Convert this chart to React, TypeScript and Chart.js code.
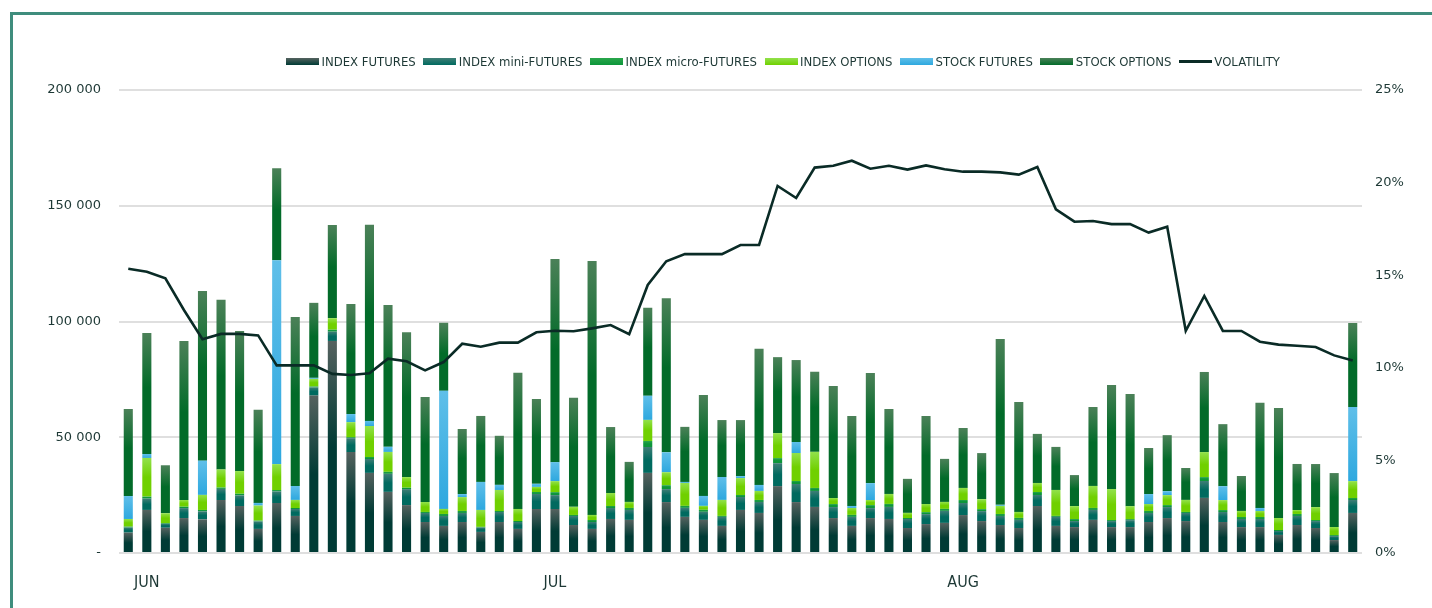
import React, { useEffect, useRef } from 'react';
import { Chart, registerables } from 'chart.js';

Chart.register(...registerables);

// ---- Data ----
const monthTicks = ['JUN', 'JUL', 'AUG'];
const monthTickIndex = [1, 23, 45];
const dayCount = 67;

const indexFutures = [
  8800, 18600, 10900, 15100, 14500, 22900, 20300, 10400, 21600, 16000,
  68000, 91600, 43600, 34600, 26400, 20700, 13400, 11700, 13400, 9100,
  13400, 10400, 19000, 19000, 12100, 10400, 14700, 14300, 34600, 22000,
  15600, 14300, 11700, 18600, 17300, 28900, 22000, 19900, 15100, 11700,
  15100, 14700, 10800, 12500, 13000, 16400, 13800, 12100, 10800, 20300,
  11700, 11200, 14300, 11200, 11200, 13400, 15100, 13800, 23800, 13400,
  11200, 11200, 7800, 12100, 10800, 5600, 17300,
];
const indexMiniFutures = [
  2200, 4900, 1700, 4300, 3500, 4800, 4600, 3200, 5000, 3000,
  3500, 4000, 6000, 6000, 7800, 6900, 3900, 4300, 3900, 1900,
  4300, 3000, 6500, 6000, 3900, 3000, 4750, 4300, 11200, 5600,
  3900, 3500, 3900, 5600, 4750, 9900, 7800, 6900, 4750, 3900,
  4300, 5200, 3900, 4300, 5200, 5200, 4300, 3900, 3500, 4750,
  3900, 2600, 4300, 2600, 3000, 3900, 4750, 3500, 7300, 4300,
  3500, 3500, 1700, 3900, 3000, 1700, 5600,
];
const indexMicroFutures = [
  400, 860, 300, 600, 600, 600, 700, 400, 600, 430,
  430, 860, 430, 860, 860, 600, 430, 860, 860, 300,
  430, 430, 860, 1300, 430, 860, 860, 860, 2600, 1700,
  860, 860, 430, 860, 860, 2200, 1300, 1300, 1300, 860,
  1300, 1300, 430, 860, 860, 1300, 860, 860, 860, 1300,
  430, 860, 860, 430, 430, 860, 860, 430, 1700, 860,
  860, 860, 430, 860, 430, 430, 860,
];
const indexOptions = [
  3300, 16700, 4300, 2900, 6500, 7800, 9800, 6500, 11200, 3500,
  3300, 5000, 6500, 13400, 8600, 4600, 4300, 2200, 6000, 7300,
  9100, 5200, 2200, 4750, 3500, 2200, 5600, 2600, 9100, 5600,
  9900, 1700, 6900, 7300, 3900, 10800, 12100, 15600, 2600, 3000,
  2200, 4300, 2200, 3500, 3000, 5200, 4300, 3500, 2600, 3900,
  11200, 5600, 9500, 13400, 5600, 3000, 4300, 5200, 10800, 4300,
  2600, 2600, 5200, 1700, 5600, 3500, 7300,
];
const stockFutures = [
  9900, 1700, 0, 0, 14800, 0, 0, 1150, 88100, 6000,
  430, 0, 3500, 2200, 2200, 0, 0, 51000, 1300, 12100,
  2200, 0, 1300, 8200, 0, 0, 0, 0, 10400, 8600,
  430, 4300, 9900, 860, 2600, 0, 4750, 0, 0, 860,
  7300, 0, 0, 0, 0, 0, 0, 430, 0, 0,
  0, 0, 0, 0, 0, 4300, 1700, 0, 0, 6000,
  0, 1300, 0, 0, 0, 0, 32000,
];
const stockOptions = [
  37600, 52300, 20700, 68700, 73300, 73300, 60500, 40200, 39700, 73000,
  32400, 40200, 47500, 84700, 61300, 62600, 45400, 29400, 28100, 28500,
  21200, 58800, 36700, 87700, 47100, 109700, 28500, 17300, 38000, 66500,
  23800, 43600, 24600, 24200, 58800, 32800, 35400, 34600, 48400, 38900,
  47500, 36700, 14700, 38000, 18600, 25900, 19900, 71700, 47500, 21200,
  18600, 13400, 34100, 44900, 48400, 19900, 24200, 13800, 34600, 26800,
  15100, 45400, 47500, 19900, 18600, 23300, 36300,
];
const volatility = [
  15.35, 15.19, 14.83, 13.12, 11.54, 11.83, 11.83, 11.75, 10.13, 10.13,
  10.13, 9.67, 9.61, 9.7, 10.49, 10.35, 9.86, 10.31, 11.3, 11.14,
  11.36, 11.36, 11.92, 12.0, 11.97, 12.13, 12.31, 11.81, 14.47, 15.75,
  16.14, 16.14, 16.14, 16.63, 16.63, 19.82, 19.17, 20.81, 20.91, 21.18,
  20.75, 20.91, 20.7, 20.93, 20.72, 20.59, 20.59, 20.55, 20.43, 20.84,
  18.56, 17.89, 17.93, 17.76, 17.76, 17.3, 17.62, 12.0, 13.88, 11.99,
  11.99, 11.41, 11.25, 11.19, 11.12, 10.67, 10.4,
];

const categories = Array.from({ length: dayCount }, (_, i) => {
  const k = monthTickIndex.indexOf(i);
  return k >= 0 ? monthTicks[k] : '';
});

// ---- Styles ----
const SERIES = [
  { label: 'INDEX FUTURES', data: indexFutures, top: '#55625f', bottom: '#003b35', stop: 0.5 },
  { label: 'INDEX mini-FUTURES', data: indexMiniFutures, top: '#3f7e76', bottom: '#006a5f', stop: 0.5 },
  { label: 'INDEX micro-FUTURES', data: indexMicroFutures, top: '#2aa64c', bottom: '#0c963a', stop: 0.5 },
  { label: 'INDEX OPTIONS', data: indexOptions, top: '#92e14c', bottom: '#70d000', stop: 0.5 },
  { label: 'STOCK FUTURES', data: stockFutures, top: '#5fbfe9', bottom: '#2ea8df', stop: 1 },
  { label: 'STOCK OPTIONS', data: stockOptions, top: '#4b8158', bottom: '#026b29', stop: 0.45 },
];
const VOL_LABEL = 'VOLATILITY';
const VOL_COLOR = '#0a2b26';
const TEXT_COLOR = '#1d3835';
const GRID_COLOR = '#dfdfdf';
const FRAME_COLOR = '#3f8d7d';

function fillFor(i: number) {
  const s = SERIES[i];
  return (c: any) => {
    const chart = c.chart;
    const yScale = chart.scales ? chart.scales.y : null;
    if (!chart.chartArea || !yScale || c.dataIndex == null) return s.bottom;
    let base = 0;
    for (let k = 0; k < i; k++) base += SERIES[k].data[c.dataIndex] || 0;
    const top = base + (s.data[c.dataIndex] || 0);
    const y0 = yScale.getPixelForValue(base);
    const y1 = yScale.getPixelForValue(top);
    if (!(y0 - y1 > 0.5) || !isFinite(y0) || !isFinite(y1)) return s.bottom;
    const g = chart.ctx.createLinearGradient(0, y1, 0, y0);
    g.addColorStop(0, s.top);
    g.addColorStop(s.stop, s.bottom);
    g.addColorStop(1, s.bottom);
    return g;
  };
}

function fmtThousands(v: number) {
  if (v === 0) return '-';
  return String(v).replace(/\B(?=(\d{3})+(?!\d))/g, ' ');
}

export default function App() {
  const ref = useRef<HTMLCanvasElement | null>(null);

  useEffect(() => {
    if (!ref.current) return;
    const datasets: any[] = [
      {
        type: 'line',
        label: VOL_LABEL,
        data: volatility,
        yAxisID: 'y2',
        borderColor: VOL_COLOR,
        backgroundColor: VOL_COLOR,
        borderWidth: 2.6,
        pointRadius: 0,
        tension: 0,
        order: 0,
      },
      ...SERIES.map((s, i) => ({
        type: 'bar',
        label: s.label,
        data: s.data,
        yAxisID: 'y',
        backgroundColor: fillFor(i),
        borderWidth: 0,
        categoryPercentage: 1,
        barPercentage: 0.49,
        order: 1,
        stack: 'vol',
      })),
    ];

    const chart = new Chart(ref.current, {
      type: 'bar',
      data: { labels: categories, datasets },
      options: {
        responsive: false,
        animation: false,
        layout: { padding: { top: 90, left: 0, right: 0, bottom: 15 } },
        plugins: {
          legend: { display: false },
          tooltip: { enabled: false },
        },
        scales: {
          x: {
            stacked: true,
            grid: { display: false },
            border: { display: false },
            ticks: {
              autoSkip: false,
              maxRotation: 0,
              minRotation: 0,
              padding: 12,
              color: TEXT_COLOR,
              font: { family: 'DejaVu Sans Condensed', size: 16 },
            },
            afterFit: (s: any) => {
              s.height = 40;
            },
          },
          y: {
            stacked: true,
            position: 'left',
            min: 0,
            max: 200000,
            grid: { color: GRID_COLOR, lineWidth: 2, drawTicks: false },
            border: { display: false },
            ticks: {
              stepSize: 50000,
              padding: 18,
              color: TEXT_COLOR,
              font: { family: 'DejaVu Sans', size: 13 },
              callback: (v: any) => fmtThousands(Number(v)),
            },
            afterFit: (s: any) => {
              s.width = 119;
            },
          },
          y2: {
            position: 'right',
            min: 0,
            max: 25,
            grid: { drawOnChartArea: false, drawTicks: false },
            border: { display: false },
            ticks: {
              stepSize: 5,
              padding: 13,
              color: TEXT_COLOR,
              font: { family: 'DejaVu Sans', size: 13 },
              callback: (v: any) => `${v}%`,
            },
            afterFit: (s: any) => {
              s.width = 70;
            },
          },
        },
      } as any,
    });
    return () => chart.destroy();
  }, []);

  const legendItems = [
    ...SERIES.map((s) => ({ label: s.label, top: s.top, bottom: s.bottom, line: false })),
    { label: VOL_LABEL, top: VOL_COLOR, bottom: VOL_COLOR, line: true },
  ];

  return (
    <div style={{ position: 'fixed', inset: 0, overflow: 'hidden', background: '#fff' }}>
      <canvas
        ref={ref}
        width={1432}
        height={608}
        style={{ position: 'absolute', left: 0, top: 0, width: 1432, height: 608 }}
      />
      <div
        style={{
          position: 'absolute',
          left: 10,
          top: 12,
          width: 1500,
          height: 700,
          border: `3px solid ${FRAME_COLOR}`,
          pointerEvents: 'none',
        }}
      />
      <div
        style={{
          position: 'absolute',
          left: 286,
          top: 53,
          height: 17,
          display: 'flex',
          alignItems: 'center',
          whiteSpace: 'nowrap',
          fontFamily: "'DejaVu Sans Condensed', 'DejaVu Sans'",
          fontSize: 13,
          color: TEXT_COLOR,
        }}
      >
        {legendItems.map((it) => (
          <div key={it.label} style={{ display: 'flex', alignItems: 'center', marginRight: 7.5 }}>
            <span
              style={{
                display: 'inline-block',
                width: 33,
                height: it.line ? 3 : 7,
                marginRight: 2.5,
                background: it.line
                  ? it.bottom
                  : `linear-gradient(to bottom, ${it.top}, ${it.bottom})`,
              }}
            />
            <span>{it.label}</span>
          </div>
        ))}
      </div>
    </div>
  );
}
